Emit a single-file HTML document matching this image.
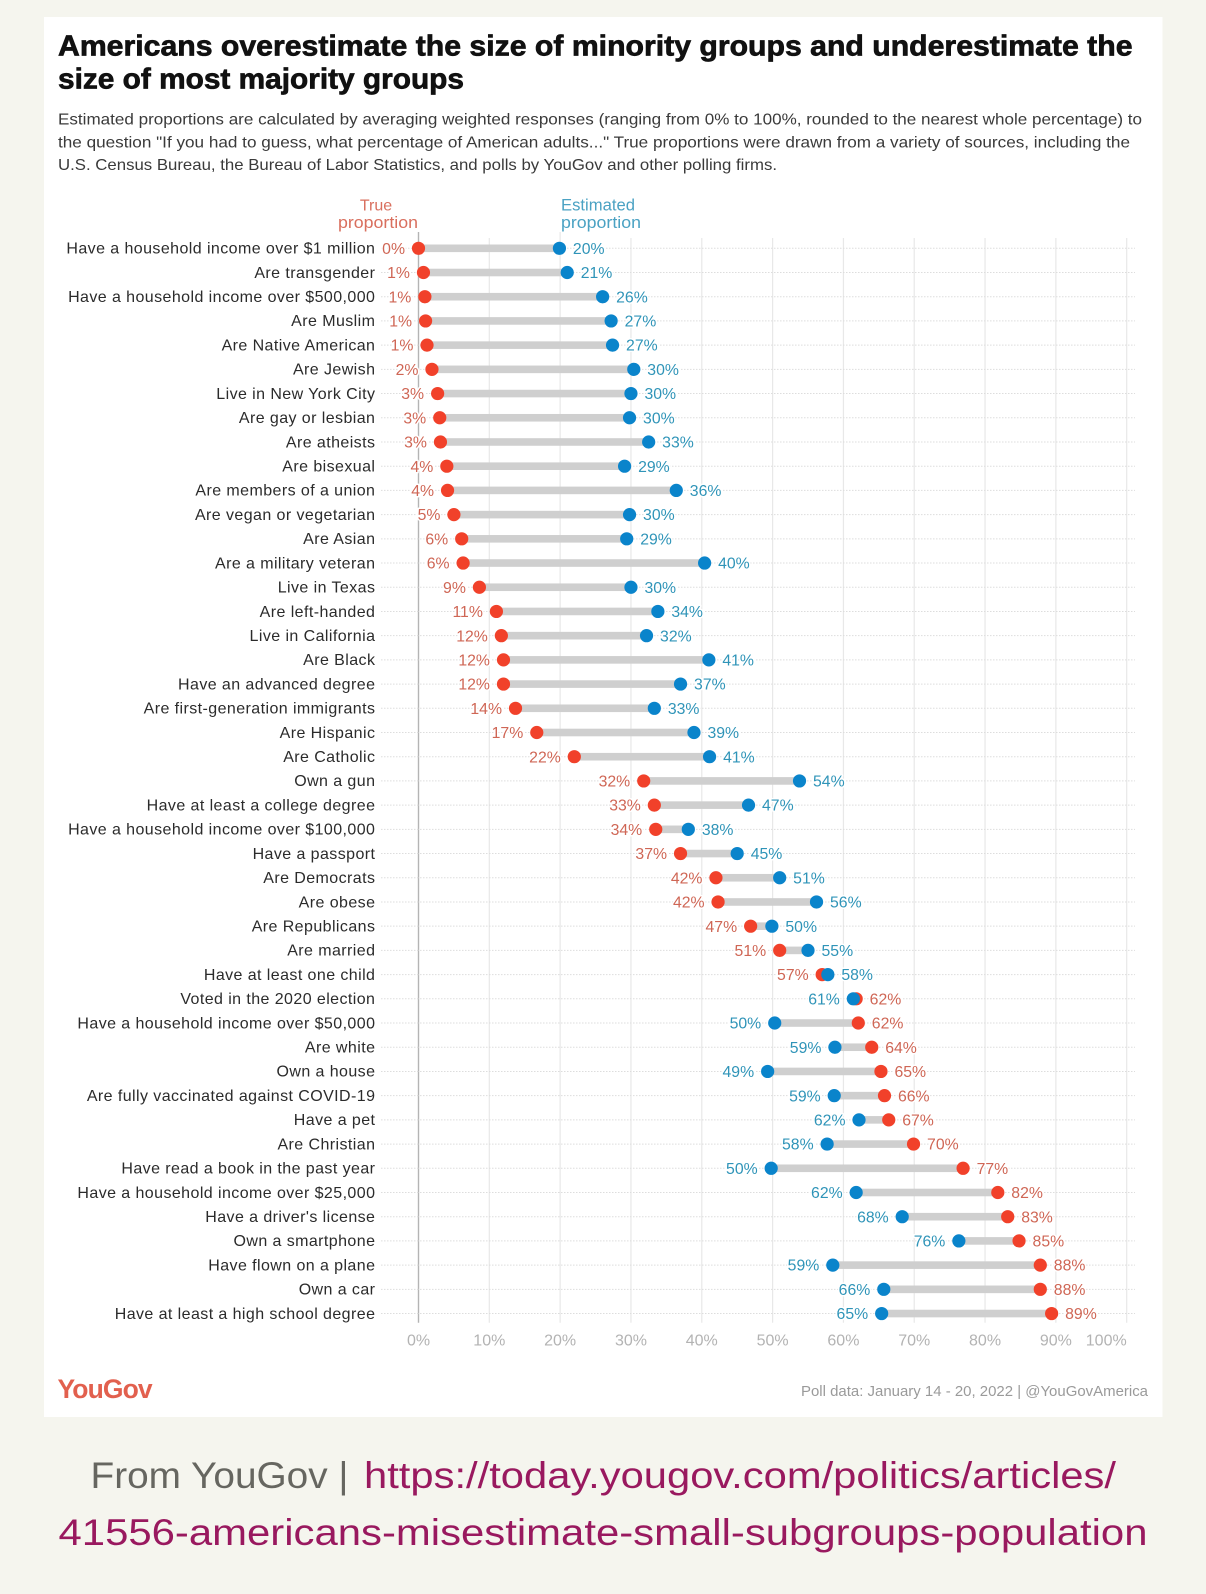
<!DOCTYPE html>
<html lang="en">
<head>
<meta charset="utf-8">
<title>Americans overestimate the size of minority groups</title>
<style>
html,body{margin:0;padding:0;background:#f5f5ee;}
body{width:1206px;height:1594px;overflow:hidden;font-family:"Liberation Sans",sans-serif;}
svg{display:block;filter:blur(0.3px);}
text{font-family:"Liberation Sans",sans-serif;}
</style>
</head>
<body>
<svg id="chart" width="1206" height="1594" viewBox="0 0 1206 1594" xmlns="http://www.w3.org/2000/svg">
  <rect x="0" y="0" width="1206" height="1594" fill="#f5f5ee"/>
  <rect x="44" y="17" width="1118.5" height="1400" fill="#ffffff"/>

  <text x="58" y="55.5" font-size="29" font-weight="700" fill="#111" textLength="1074.5" lengthAdjust="spacingAndGlyphs" stroke="#111" stroke-width="0.7">Americans overestimate the size of minority groups and underestimate the</text>
  <text x="58" y="88.5" font-size="29" font-weight="700" fill="#111" textLength="406" lengthAdjust="spacingAndGlyphs" stroke="#111" stroke-width="0.7">size of most majority groups</text>

  <text x="58" y="124.5" font-size="16" fill="#3a3a3a" textLength="1084" lengthAdjust="spacingAndGlyphs">Estimated proportions are calculated by averaging weighted responses (ranging from 0% to 100%, rounded to the nearest whole percentage) to</text>
  <text x="58" y="147.5" font-size="16" fill="#3a3a3a" textLength="1072" lengthAdjust="spacingAndGlyphs">the question "If you had to guess, what percentage of American adults..." True proportions were drawn from a variety of sources, including the</text>
  <text x="58" y="170" font-size="16" fill="#3a3a3a" textLength="719" lengthAdjust="spacingAndGlyphs">U.S. Census Bureau, the Bureau of Labor Statistics, and polls by YouGov and other polling firms.</text>

  <text x="376" y="210.5" font-size="16" fill="#d96f5e" text-anchor="middle">True</text>
  <text x="418" y="228" font-size="16.5" fill="#d96f5e" text-anchor="end" textLength="80" lengthAdjust="spacingAndGlyphs">proportion</text>
  <text x="561" y="210.5" font-size="16.5" fill="#4ba2c3" textLength="74" lengthAdjust="spacingAndGlyphs">Estimated</text>
  <text x="561" y="228" font-size="16.5" fill="#4ba2c3" textLength="80" lengthAdjust="spacingAndGlyphs">proportion</text>

  <g id="grid-layer"></g>
  <g id="axis-layer"></g>
  <g id="row-layer"></g>
  <g id="bar-layer"></g>
  <g id="true-dot-layer"></g>
  <g id="est-dot-layer"></g>
  <g id="value-layer"></g>

  <text x="57.5" y="1398" font-size="26.5" font-weight="700" fill="#e2604e" letter-spacing="-0.9">YouGov</text>
  <text x="1148" y="1396" font-size="14.5" fill="#9a9a9a" text-anchor="end" textLength="347" lengthAdjust="spacingAndGlyphs">Poll data: January 14 - 20, 2022 | @YouGovAmerica</text>

  <text x="90.5" y="1488" font-size="37.5" fill="#666660" textLength="258" lengthAdjust="spacingAndGlyphs">From YouGov |</text>
  <text x="364" y="1488" font-size="37.5" fill="#99195f" textLength="752" lengthAdjust="spacingAndGlyphs">https://today.yougov.com/politics/articles/</text>
  <text x="58.5" y="1545" font-size="37.5" fill="#99195f" textLength="1089" lengthAdjust="spacingAndGlyphs">41556-americans-misestimate-small-subgroups-population</text>
</svg>

<script>
const categories = [
  "Have a household income over $1 million","Are transgender","Have a household income over $500,000","Are Muslim","Are Native American",
  "Are Jewish","Live in New York City","Are gay or lesbian","Are atheists","Are bisexual",
  "Are members of a union","Are vegan or vegetarian","Are Asian","Are a military veteran","Live in Texas",
  "Are left-handed","Live in California","Are Black","Have an advanced degree","Are first-generation immigrants",
  "Are Hispanic","Are Catholic","Own a gun","Have at least a college degree","Have a household income over $100,000",
  "Have a passport","Are Democrats","Are obese","Are Republicans","Are married",
  "Have at least one child","Voted in the 2020 election","Have a household income over $50,000","Are white","Own a house",
  "Are fully vaccinated against COVID-19","Have a pet","Are Christian","Have read a book in the past year","Have a household income over $25,000",
  "Have a driver's license","Own a smartphone","Have flown on a plane","Own a car","Have at least a high school degree"
];
const trueValues = [
  0,0.7,0.9,1.0,1.2,1.9,2.7,3.0,3.1,4.0,4.1,5.0,6.1,6.3,8.6,11,11.7,12,12,13.7,16.7,22,31.8,33.3,33.5,
  37,42,42.3,46.9,51,57,61.8,62.1,64,65.3,65.8,66.4,69.9,76.9,81.8,83.2,84.8,87.8,87.8,89.4
];
const estimatedValues = [
  19.9,21.0,26.0,27.2,27.4,30.4,30.0,29.8,32.5,29.1,36.4,29.8,29.4,40.4,30.0,33.8,32.2,41,37,33.3,38.9,41.1,53.8,46.6,38.1,
  45,51,56.2,49.9,55,57.8,61.4,50.3,58.8,49.3,58.7,62.2,57.7,49.8,61.8,68.3,76.3,58.5,65.7,65.4
];
const trueLabels = [
  "0%","1%","1%","1%","1%","2%","3%","3%","3%","4%","4%","5%","6%","6%","9%","11%","12%","12%","12%","14%","17%","22%","32%","33%","34%",
  "37%","42%","42%","47%","51%","57%","62%","62%","64%","65%","66%","67%","70%","77%","82%","83%","85%","88%","88%","89%"
];
const estimatedLabels = [
  "20%","21%","26%","27%","27%","30%","30%","30%","33%","29%","36%","30%","29%","40%","30%","34%","32%","41%","37%","33%","39%","41%","54%","47%","38%",
  "45%","51%","56%","50%","55%","58%","61%","50%","59%","49%","59%","62%","58%","50%","62%","68%","76%","59%","66%","65%"
];
const xTicks = [0,10,20,30,40,50,60,70,80,90,100];
const xTickLabels = ["0%","10%","20%","30%","40%","50%","60%","70%","80%","90%","100%"];

const SVG_NS = "http://www.w3.org/2000/svg";
const xOrigin = 418.5, xPerUnit = 7.082, yFirst = 248.3, yStep = 24.21;
function xScale(v){ return xOrigin + v * xPerUnit; }
function yScale(i){ return yFirst + i * yStep; }
function make(tag, attrs, parentId){
  const el = document.createElementNS(SVG_NS, tag);
  for (const k in attrs) el.setAttribute(k, attrs[k]);
  document.getElementById(parentId).appendChild(el);
  return el;
}
const gridTop = 238, gridBottom = 1322.7, gridLeft = 381, gridRight = 1135;

xTicks.forEach(function(t, i){
  const line = make("line", {x1:xScale(t), x2:xScale(t), y1:t === 0 || t === 20 ? 232 : gridTop, y2:gridBottom, stroke:t === 0 ? "#b4b4b4" : "#e8e8e8", "stroke-width":t === 0 ? 1.4 : 1.2}, "grid-layer");
  
  
  const label = make("text", {x:xScale(t), y:1345.5, "font-size":16, fill:"#b3b3b3", "text-anchor":t === 100 ? "end" : "middle"}, "axis-layer");
  label.textContent = xTickLabels[i];
  
  
});

categories.forEach(function(name, i){
  const y = yScale(i);
  const rule = make("line", {x1:gridLeft, x2:gridRight, y1:y, y2:y, stroke:"#dddddd", "stroke-width":1, "stroke-dasharray":"1.5 1.5"}, "grid-layer");
  
  

  const label = make("text", {x:375.4, y:y + 5.3, "font-size":16, fill:"#2b2b2b", "text-anchor":"end", "letter-spacing":0.42}, "row-layer");
  label.textContent = name;
  
  

  const tx = xScale(trueValues[i]), ex = xScale(estimatedValues[i]);
  const bar = make("rect", {x:Math.min(tx, ex), y:y - 3.8, width:Math.abs(ex - tx), height:7.6, fill:"#cfcfcf"}, "bar-layer");
  
  

  const trueDot = make("circle", {cx:tx, cy:y, r:6.6, fill:"#f1412a"}, "true-dot-layer");
  
  

  const estDot = make("circle", {cx:ex, cy:y, r:6.6, fill:"#0a84cb"}, "est-dot-layer");
  
  

  const trueIsLow = trueValues[i] <= estimatedValues[i];
  const valueAttrs = {y:y + 5.6, "font-size":15.8, "paint-order":"stroke", stroke:"#ffffff", "stroke-width":3, "stroke-linejoin":"round"};
  const trueText = make("text", Object.assign({}, valueAttrs, {x:tx + (trueIsLow ? -13.5 : 13.5), fill:"#cf6655", "text-anchor":trueIsLow ? "end" : "start"}), "value-layer");
  trueText.textContent = trueLabels[i];
  
  

  const estText = make("text", Object.assign({}, valueAttrs, {x:ex + (trueIsLow ? 13.5 : -13.5), fill:"#2f94b8", "text-anchor":trueIsLow ? "start" : "end"}), "value-layer");
  estText.textContent = estimatedLabels[i];
  
  
});
</script>
</body>
</html>
